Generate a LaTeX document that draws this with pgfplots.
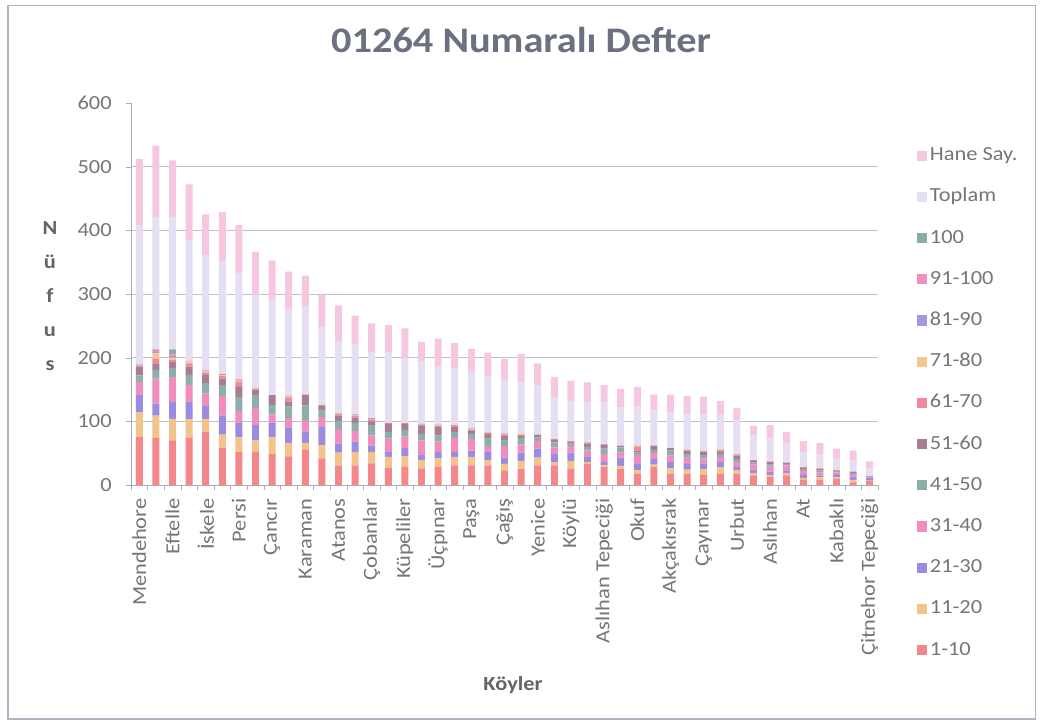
\documentclass[border=0pt]{standalone}
\usepackage{pgfplots}
\pgfplotsset{compat=1.18}
\usepackage{pgfplotstable}
\usepackage{fontspec}
\setmainfont{Carlito}[FakeStretch=1.12]

\definecolor{cA}{HTML}{F4878C}
\definecolor{cB}{HTML}{F2C38A}
\definecolor{cC}{HTML}{9A8CE0}
\definecolor{cD}{HTML}{F28CBE}
\definecolor{cE}{HTML}{8CB0A8}
\definecolor{cF}{HTML}{A87E94}
\definecolor{cG}{HTML}{F28898}
\definecolor{cH}{HTML}{F4C892}
\definecolor{cI}{HTML}{A09AE0}
\definecolor{cJ}{HTML}{F08EC0}
\definecolor{cK}{HTML}{8AAEA6}
\definecolor{cT}{HTML}{E6DEF2}
\definecolor{cS}{HTML}{F6C8E0}
\definecolor{txt}{HTML}{767676}
\definecolor{ttl}{HTML}{6C7080}
\definecolor{gridc}{HTML}{BCC0D2}

% columns: 1-10 ... 91-100, 100, Toplam, Hane Say.
\pgfplotstableread{
x a1 a2 a3 a4 a5 a6 a7 a8 a9 a10 a11 T H
0 76 38 27 21 10 14 2 1 1 0 0 218 104
1 74 35 19 39 14 10 8 8 2 3 1 208 112
2 70 34 26 40 14 9 4 3 3 2 8 208 89
3 75 28 28 26 16 13 5 3 1 0 0 190 87
4 83 21 21 19 16 13 3 3 1 0 0 181 64
5 58 21 30 31 17 10 4 2 1 0 0 177 78
6 52 23 22 19 22 16 8 2 1 1 0 167 75
7 53 17 24 27 20 9 1 1 0 0 0 147 67
8 49 26 22 14 15 15 0 0 0 0 0 150 62
9 45 21 24 15 18 8 6 2 1 0 0 136 59
10 56 10 18 18 23 16 1 1 0 0 0 138 48
11 41 22 28 16 10 8 1 0 0 0 0 121 52
12 30 21 14 23 12 9 3 1 0 0 0 113 56
13 31 21 16 17 12 9 3 1 1 0 0 110 45
14 34 18 10 16 16 6 3 1 1 0 0 103 46
15 27 17 8 21 10 13 1 1 0 0 0 110 43
16 29 16 13 18 10 10 1 1 0 0 0 102 46
17 26 13 8 23 10 13 1 1 1 0 0 99 30
18 29 13 10 16 10 13 2 1 1 0 0 92 43
19 31 13 8 22 9 8 3 0 0 0 0 90 39
20 31 13 10 18 8 5 2 1 1 0 0 90 35
21 31 8 13 8 13 8 1 1 0 0 0 86 39
22 23 10 10 18 10 6 2 1 1 0 0 83 34
23 25 13 13 13 10 3 2 2 0 0 0 80 45
24 31 12 14 12 6 4 0 0 0 0 0 77 35
25 31 5 13 10 8 4 1 0 0 0 0 66 32
26 25 13 13 10 4 3 1 0 0 0 0 63 32
27 33 3 9 9 6 5 2 0 0 0 0 63 31
28 28 3 5 13 8 7 0 0 0 0 0 66 27
29 25 5 13 8 8 3 0 0 0 0 0 60 29
30 18 5 10 14 4 3 6 1 1 0 0 62 30
31 28 4 9 9 5 7 0 0 0 0 0 55 25
32 18 8 10 10 8 4 0 0 0 0 0 56 28
33 18 6 9 10 6 5 1 0 0 0 0 56 29
34 16 9 9 8 5 5 1 1 0 0 0 57 28
35 18 10 8 8 5 4 2 1 0 0 0 53 23
36 18 5 5 8 5 5 2 1 0 0 0 52 20
37 15 4 5 8 3 3 1 0 0 0 0 39 15
38 13 3 5 8 3 4 1 0 0 0 0 36 21
39 15 4 4 8 2 2 0 0 0 0 0 31 17
40 8 3 5 6 3 2 1 0 0 0 0 24 17
41 8 4 3 5 3 2 1 0 0 0 0 22 18
42 10 2 4 4 2 1 0 0 0 0 0 18 16
43 4 4 5 4 2 2 0 0 0 0 0 18 15
44 6 1 4 1 1 1 0 0 0 0 0 13 10
}\koy

\newcommand\lbl{\fontsize{15}{18}\selectfont}

\begin{document}
\begin{tikzpicture}
  \path[use as bounding box,fill=white] (0,0) rectangle (780.75pt,543.75pt);
  \draw[gridc!80!gray,line width=0.8pt] (6pt,4.5pt) rectangle (776.5pt,539.5pt);

  \node[anchor=base,text=ttl,font=\fontsize{27}{30}\selectfont\bfseries]
    at (390.75pt,504pt) {01264 Numaralı Defter};
  \node[text=txt!85!black,align=center,font=\fontsize{15}{25.5}\selectfont\bfseries]
    at (37.5pt,321.75pt) {N\\ü\\f\\u\\s};
  \node[text=txt!85!black,font=\fontsize{15}{18}\selectfont\bfseries]
    at (384.75pt,30pt) {Köyler};

  \begin{axis}[
      at={(98.25pt,180pt)}, anchor=south west,
      width=560.25pt, height=286.5pt, scale only axis,
      ybar stacked, bar width=5.2pt,
      xmin=-0.5, xmax=44.5, ymin=0, ymax=600,
      axis x line*=bottom, axis y line*=left,
      axis line style={draw=gridc!70!gray, line width=0.6pt},
      ytick={0,100,...,500}, extra y ticks={600},
      extra y tick style={ymajorgrids=false},
      ymajorgrids, major grid style={draw=gridc, line width=0.6pt},
      xtick={0,2,...,44},
      xticklabels={Mendehore,Eftelle,İskele,Persi,Çancır,Karaman,Atanos,Çobanlar,
        Küpeliler,Üçpınar,Paşa,Çağış,Yenice,Köylü,Aslıhan Tepeciği,Okuf,
        Akçakısrak,Çayınar,Urbut,Aslıhan,At,Kabaklı,Çitnehor Tepeciği},
      x tick label style={rotate=90, anchor=east, inner sep=0pt},
      xticklabel shift=6pt,
      minor xtick={-0.5,0.5,...,44.5},
      tick align=outside,
      major x tick style={draw=none},
      minor x tick style={draw=gridc!70!gray},
      y tick style={draw=gridc!70!gray},
      major tick length=4pt, minor tick length=4pt,
      yticklabel shift=7pt,
      tick label style={font=\lbl, text=txt},
      /pgf/number format/assume math mode=true,
      reverse legend,
      legend cell align=left,
      legend style={at={(1.052,0.895)}, anchor=north west, draw=none, fill=none,
        inner sep=0pt, row sep=12.4pt, font=\lbl, text=txt,
        nodes={inner sep=2pt, text height=11pt, text depth=3.5pt}},
      legend image code/.code={\draw[#1,draw=none] (0pt,-3.8pt) rectangle (7.6pt,3.8pt);},
      every axis plot/.append style={draw=none},
    ]
    \addplot[fill=cA] table[x=x,y=a1]{\koy};
    \addplot[fill=cB] table[x=x,y=a2]{\koy};
    \addplot[fill=cC] table[x=x,y=a3]{\koy};
    \addplot[fill=cD] table[x=x,y=a4]{\koy};
    \addplot[fill=cE] table[x=x,y=a5]{\koy};
    \addplot[fill=cF] table[x=x,y=a6]{\koy};
    \addplot[fill=cG] table[x=x,y=a7]{\koy};
    \addplot[fill=cH] table[x=x,y=a8]{\koy};
    \addplot[fill=cI] table[x=x,y=a9]{\koy};
    \addplot[fill=cJ] table[x=x,y=a10]{\koy};
    \addplot[fill=cK] table[x=x,y=a11]{\koy};
    \addplot[fill=cT] table[x=x,y=T]{\koy};
    \addplot[fill=cS] table[x=x,y=H]{\koy};
    \legend{1-10,11-20,21-30,31-40,41-50,51-60,61-70,71-80,81-90,91-100,100,Toplam,Hane Say.}
  \end{axis}
\end{tikzpicture}
\end{document}
